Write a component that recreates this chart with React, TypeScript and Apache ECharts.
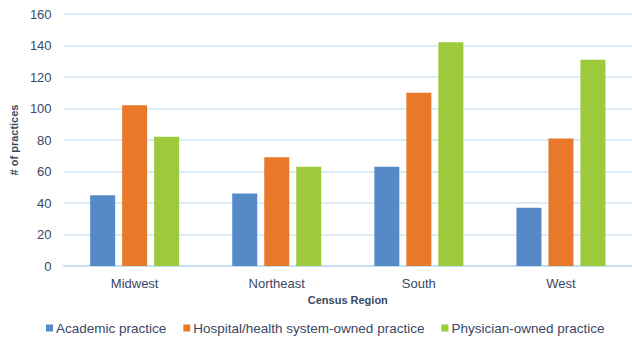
import React, { useEffect, useRef } from "react";
import * as echarts from "echarts";

const categories = ["Midwest", "Northeast", "South", "West"];
const academic = [45, 46, 63, 37];
const hospital = [102, 69, 110, 81];
const physician = [82, 63, 142, 131];
const seriesNames = [
  "Academic practice",
  "Hospital/health system-owned practice",
  "Physician-owned practice",
];
const colors = ["#5589c8", "#e8782a", "#9dc93c"];

export default function App() {
  const ref = useRef<HTMLDivElement>(null);
  useEffect(() => {
    const chart = echarts.init(ref.current!, null, { renderer: "svg" });
    const textColor = "#3a4765";
    const font = "Liberation Sans, Arial, sans-serif";
    const mk = (name: string, data: number[], color: string) => ({
      name,
      type: "bar",
      data,
      barWidth: 25,
      barGap: "28%",
      itemStyle: { color },
    });
    chart.setOption({
      animation: false,
      textStyle: { fontFamily: font },
      grid: { left: 59, right: -4, top: 14, bottom: 74, containLabel: false },
      legend: {
        data: seriesNames,
        left: 46,
        top: 321,
        padding: 0,
        itemWidth: 7,
        itemHeight: 7,
        itemGap: 17,
        icon: "rect",
        textStyle: { color: textColor, fontSize: 13.5, fontFamily: font, padding: [0, 0, 0, -2] },
      },
      xAxis: {
        type: "category",
        data: categories,
        name: "Census Region",
        nameLocation: "middle",
        nameGap: 27,
        nameTextStyle: { color: textColor, fontSize: 11, fontWeight: "bold", fontFamily: font },
        axisLine: { lineStyle: { color: "#bcdcf0", width: 1.5 } },
        axisTick: { show: false },
        axisLabel: { color: textColor, fontSize: 13, margin: 11, fontFamily: font },
      },
      yAxis: {
        type: "value",
        min: 0,
        max: 160,
        interval: 20,
        name: "# of practices",
        nameLocation: "middle",
        nameGap: 44,
        nameTextStyle: { color: textColor, fontSize: 11, fontWeight: "bold", fontFamily: font },
        axisLine: { show: false },
        axisTick: { show: false },
        axisLabel: { color: textColor, fontSize: 13, margin: 12, fontFamily: font },
        splitLine: { lineStyle: { color: "#d2e6f5", width: 1.5 } },
      },
      series: [
        mk(seriesNames[0], academic, colors[0]),
        mk(seriesNames[1], hospital, colors[1]),
        mk(seriesNames[2], physician, colors[2]),
      ],
    });
    return () => chart.dispose();
  }, []);
  return <div ref={ref} style={{ width: 632, height: 340, position: "absolute", left: 0, top: 0 }} />;
}
